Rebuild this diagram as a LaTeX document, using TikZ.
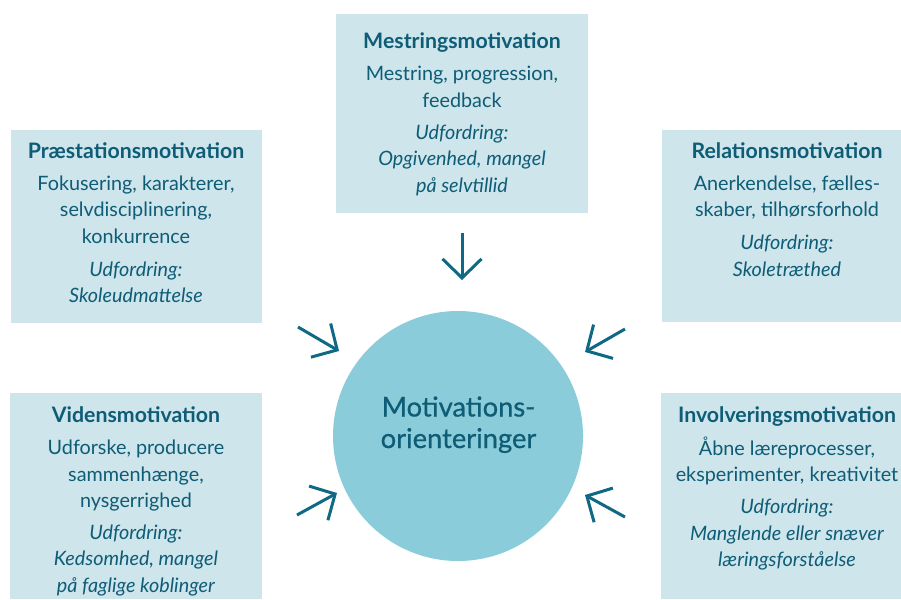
\documentclass[tikz,border=0pt]{standalone}
\usepackage{fontspec}
\setmainfont{Lato}
\newfontfamily\hubfont[FakeBold=0.7]{Lato}
\usetikzlibrary{arrows.meta}
\definecolor{boxfill}{HTML}{CDE5EB}
\definecolor{circfill}{HTML}{8BCCDA}
\definecolor{txtcol}{HTML}{0E5C76}
\definecolor{arrcol}{HTML}{0F6884}
\newcommand{\ttl}[1]{{\fontsize{21.3}{26.5}\selectfont\bfseries #1}}
\begin{document}
\begin{tikzpicture}[x=1pt,y=-1pt,
  boxst/.style={fill=boxfill, draw=none},
  txt/.style={text=txtcol, align=center, inner sep=0pt, anchor=base,
    font=\fontsize{19.8}{26.5}\selectfont},
  hub/.style={circle, fill=circfill, draw=none, minimum size=250pt, inner sep=0pt},
  hubtxt/.style={text=txtcol, align=center, inner sep=0pt, anchor=base,
    font=\hubfont\fontsize{27.3}{31.5}\selectfont},
  arr/.style={draw=arrcol, line width=3pt, -{Straight Barb[length=19pt,width=39pt]}}]
\useasboundingbox (0,0) rectangle (901,599);

% boxes
\path[boxst] (336,14) rectangle (588,213);
\path[boxst] (11,130) rectangle (262,323);
\path[boxst] (662,130) rectangle (901,322);
\path[boxst] (10,393) rectangle (262,599);
\path[boxst] (661,393) rectangle (901,599);

% texts (anchor base = baseline of last line)
\node[txt] (mestr) at (462,192) {\ttl{Mestringsmotivation}\\[5.5pt]
  Mestring, progression,\\ feedback\\[5.5pt]
  \textit{Udfordring:}\\ \textit{Opgivenhed, mangel}\\ \textit{på selvtillid}};
\node[txt] (praest) at (136,302.5) {\ttl{Præstationsmotivation}\\[5.5pt]
  Fokusering, karakterer,\\ selvdisciplinering,\\ konkurrence\\[6.5pt]
  \textit{Udfordring:}\\ \textit{Skoleudmattelse}};
\node[txt] (relat) at (787,276) {\ttl{Relationsmotivation}\\[5.5pt]
  Anerkendelse, fælles-\\ skaber, tilhørsforhold\\[6.5pt]
  \textit{Udfordring:}\\ \textit{Skoletræthed}};
\node[txt] (videns) at (136,592) {\ttl{Vidensmotivation}\\[6pt]
  Udforske, producere\\ sammenhænge,\\ nysgerrighed\\[5pt]
  \textit{Udfordring:}\\ \textit{Kedsomhed, mangel}\\ \textit{på faglige koblinger}};
\node[txt] (invol) at (787,566.5) {\ttl{Involveringsmotivation}\\[6pt]
  Åbne læreprocesser,\\ eksperimenter, kreativitet\\[5.5pt]
  \textit{Udfordring:}\\ \textit{Manglende eller snæver}\\ \textit{læringsforståelse}};

% hub
\node[hub] (hub) at (458,436) {};
\node[hubtxt] (hubtext) at (458.5,448) {Motivations-\\orienteringer};

% arrows
\coordinate (t0) at (462,233); \coordinate (t1) at (462,280);
\coordinate (ul0) at (298,327); \coordinate (ul1) at (339,351);
\coordinate (ur0) at (625,329); \coordinate (ur1) at (585,352);
\coordinate (ll0) at (297,515); \coordinate (ll1) at (337,493);
\coordinate (lr0) at (625,517); \coordinate (lr1) at (585,495);
\draw[arr] (t0) -- (t1);
\draw[arr] (ul0) -- (ul1);
\draw[arr] (ur0) -- (ur1);
\draw[arr] (ll0) -- (ll1);
\draw[arr] (lr0) -- (lr1);
\end{tikzpicture}
\end{document}
